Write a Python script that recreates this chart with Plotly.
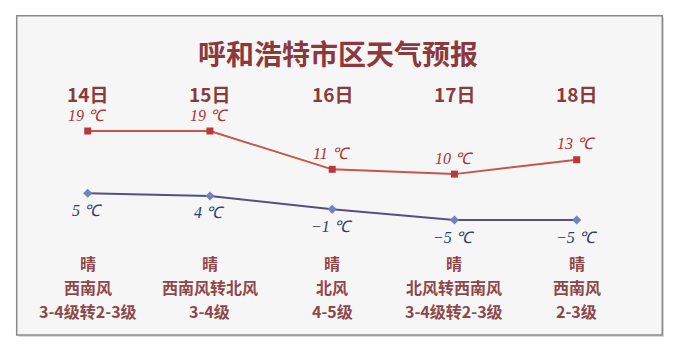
import plotly.graph_objects as go

days = [14, 15, 16, 17, 18]
day_labels = ["14日", "15日", "16日", "17日", "18日"]
highs = [19, 19, 11, 10, 13]
lows = [5, 4, -1, -5, -5]
weather = ["晴", "晴", "晴", "晴", "晴"]
winds = ["西南风", "西南风转北风", "北风", "北风转西南风", "西南风"]
levels = ["3-4级转2-3级", "3-4级", "4-5级", "3-4级转2-3级", "2-3级"]
title = "呼和浩特市区天气预报"

W, H = 677, 355
CJK = "Noto Sans CJK SC"
SERIF = "Liberation Serif"

fig = go.Figure()

fig.add_trace(go.Scatter(
    x=days, y=highs, mode="lines+markers", yaxis="y",
    line=dict(color="#c4554f", width=2),
    marker=dict(symbol="square", size=7, color="#b8393d"),
    hoverinfo="skip", showlegend=False,
))
fig.add_trace(go.Scatter(
    x=days, y=lows, mode="lines+markers", yaxis="y2",
    line=dict(color="#55507f", width=2),
    marker=dict(symbol="diamond", size=7, color="#7083bb"),
    hoverinfo="skip", showlegend=False,
))

def fmt(v):
    return (str(v) if v >= 0 else "−" + str(-v)) + " ℃"

annotations = []
for d, h in zip(days, highs):
    annotations.append(dict(x=d, y=h, xref="x", yref="y", text=fmt(h),
                            showarrow=False, yshift=16,
                            font=dict(family=SERIF, size=16, color="#a83434", style="italic")))
for d, l in zip(days, lows):
    annotations.append(dict(x=d, y=l, xref="x", yref="y2", text=fmt(l),
                            showarrow=False, yshift=-17,
                            font=dict(family=SERIF, size=16, color="#2f3d6b", style="italic")))

def py(p):
    return 1 - p / H

for d, lab in zip(days, day_labels):
    annotations.append(dict(x=d, y=py(93), xref="x", yref="paper", text=lab,
                            showarrow=False, yanchor="middle",
                            font=dict(family=CJK, size=19, color="#8a3a3c", weight="bold")))
for d, w, wi, lv in zip(days, weather, winds, levels):
    for txt, yy in ((w, 262.5), (wi, 286.5), (lv, 310.5)):
        annotations.append(dict(x=d, y=py(yy), xref="x", yref="paper", text=txt,
                                showarrow=False, yanchor="middle",
                                font=dict(family=CJK, size=16, color="#8e4749", weight="bold")))

annotations.append(dict(x=338 / W, y=py(53), xref="paper", yref="paper", text=title,
                        showarrow=False, yanchor="middle",
                        font=dict(family=CJK, size=28, color="#8c383d", weight="bold")))

shapes = [
    dict(type="rect", xref="paper", yref="paper", layer="below",
         x0=18.5 / W, x1=664 / W, y0=py(337), y1=py(17.5),
         fillcolor="#d8d8d8", line=dict(width=0)),
    dict(type="rect", xref="paper", yref="paper", layer="below",
         x0=16.7 / W, x1=662.3 / W, y0=py(335), y1=py(15.7),
         fillcolor="#f6f6f7", line=dict(color="#8a8a8a", width=1.5)),
]

fig.update_layout(
    width=W, height=H,
    margin=dict(l=0, r=0, t=0, b=0),
    paper_bgcolor="white", plot_bgcolor="rgba(0,0,0,0)",
    xaxis=dict(range=[13.2826, 18.8204], visible=False, fixedrange=True),
    yaxis=dict(range=[-27.76, 46.35], visible=False, fixedrange=True),
    yaxis2=dict(range=[-55.56, 77.4], visible=False, overlaying="y", fixedrange=True),
    annotations=annotations,
    shapes=shapes,
)

fig.write_html("out.html", config={"displayModeBar": False})
